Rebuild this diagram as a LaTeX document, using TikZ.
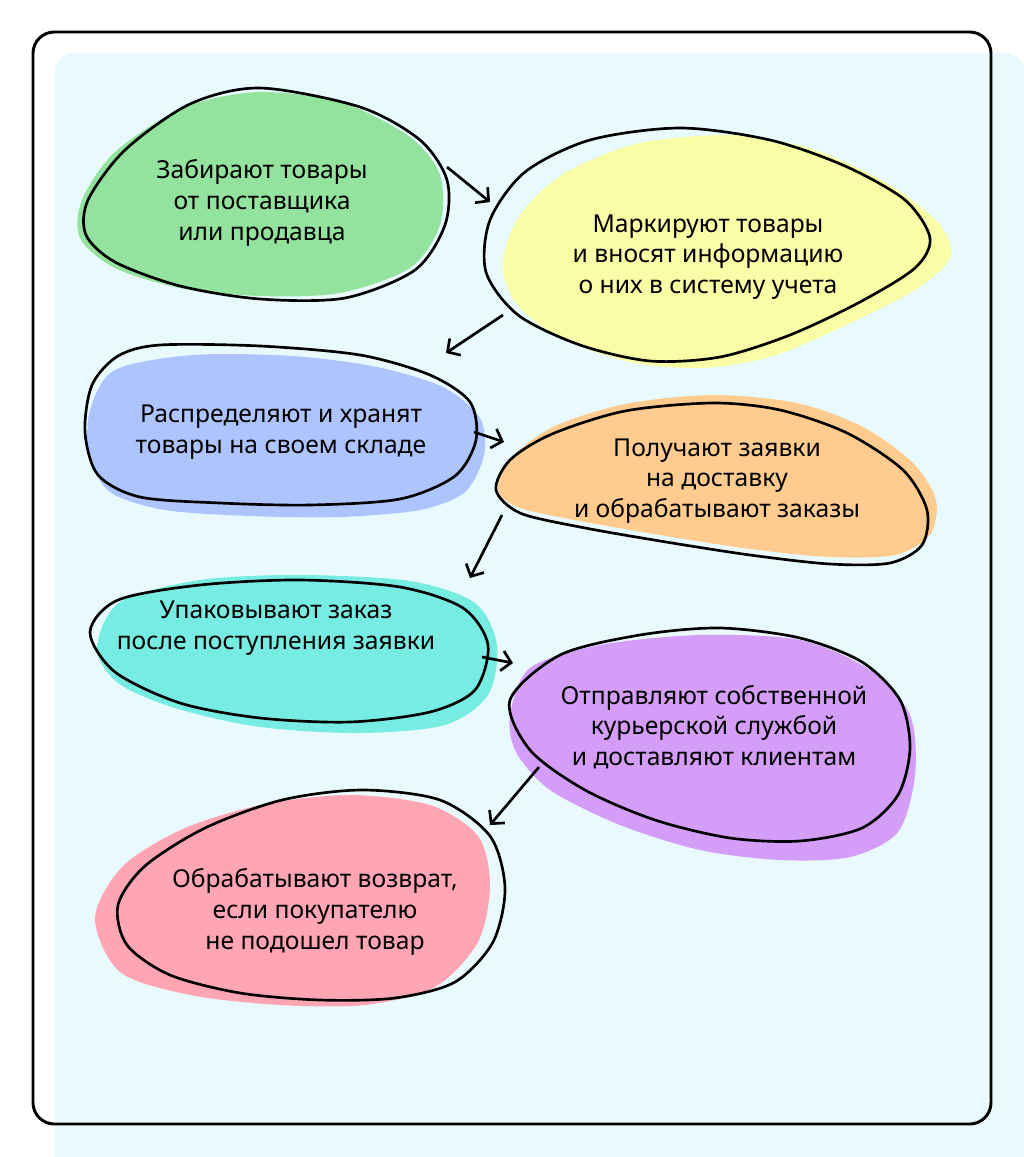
\documentclass[tikz,border=0pt]{standalone}
\usepackage{fontspec}
\setmainfont{Noto Sans}
\usepackage{xcolor}
\usetikzlibrary{arrows.meta}

\definecolor{bgcyan}{RGB}{232,250,254}
\definecolor{cgreen}{RGB}{147,226,157}
\definecolor{cyellow}{RGB}{248,253,166}
\definecolor{cblue}{RGB}{174,196,254}
\definecolor{corange}{RGB}{255,203,142}
\definecolor{cteal}{RGB}{119,236,227}
\definecolor{cpurple}{RGB}{211,157,248}
\definecolor{cpink}{RGB}{255,165,179}

\begin{document}
\begin{tikzpicture}[
    x=0.75pt, y=-0.75pt,
    blobfill/.style={fill=#1, draw=none},
    blobline/.style={draw=black, line width=2pt},
    txt/.style={align=center, font=\fontsize{18.5}{23}\selectfont, inner sep=0pt},
    arr/.style={line width=2pt, -{Straight Barb[length=7pt,width=15pt,line width=2pt]}},
]
\useasboundingbox (0,0) rectangle (1024,1157);
\fill[white] (0,0) rectangle (1024,1157);
\fill[bgcyan, rounded corners=14] (55,1157) -- (55,53) -- (1024,53) -- (1024,1157);
\draw[line width=2.2pt, rounded corners=16] (33,32) rectangle (991,1124);

% green
\fill[blobfill=cgreen] plot[smooth cycle] coordinates {(260,92) (343,103) (410,137) (440,175) (440,225) (410,268) (340,293) (260,296) (180,288) (115,268) (80,238) (82,200) (115,152) (185,107)};
\draw[blobline] plot[smooth cycle] coordinates {(260,88) (360,107) (420,140) (447,180) (445,225) (415,270) (345,298) (260,299) (180,286) (115,262) (86,235) (88,200) (125,150) (190,104)};
\node[txt] (collect) at (262,203) {Забирают товары\\от поставщика\\или продавца};

% yellow
\fill[blobfill=cyellow] plot[smooth cycle] coordinates {(737,135) (815,150) (890,185) (940,225) (950,258) (915,290) (840,328) (770,357) (700,368) (630,362) (560,338) (515,302) (503,262) (520,215) (565,173) (640,143)};
\draw[blobline] plot[smooth cycle] coordinates {(680,128) (770,140) (845,166) (905,200) (930,238) (915,268) (860,302) (790,335) (720,357) (650,361) (580,345) (518,315) (486,272) (490,220) (525,172) (590,140)};
\node[txt] (label) at (708,257) {Маркируют товары\\и вносят информацию\\о них в систему учета};

% blue
\fill[blobfill=cblue] plot[smooth cycle] coordinates {(193,355) (293,356) (377,367) (443,387) (480,418) (484,455) (465,492) (420,510) (340,517) (250,516) (165,510) (110,492) (89,455) (90,410) (115,370)};
\draw[blobline] plot[smooth cycle] coordinates {(160,345) (260,346) (360,355) (430,375) (470,402) (476,440) (455,476) (400,499) (310,505) (220,503) (140,497) (98,475) (85,432) (92,385) (118,356)};
\node[txt] (store) at (281,432) {Распределяют и хранят\\товары на своем складе};

% orange
\fill[blobfill=corange] plot[smooth cycle] coordinates {(713,395) (797,403) (863,427) (913,463) (936,500) (930,535) (895,555) (830,557) (750,549) (660,535) (580,521) (520,508) (498,490) (512,457) (555,426) (625,404)};
\draw[blobline] plot[smooth cycle] coordinates {(713,403) (780,410) (847,433) (903,470) (927,510) (922,545) (890,563) (830,564) (750,555) (660,541) (580,527) (520,513) (496,490) (510,460) (552,434) (625,411)};
\node[txt] (orders) at (717,481) {Получают заявки\\на доставку\\и обрабатывают заказы};

% teal
\fill[blobfill=cteal] plot[smooth cycle] coordinates {(97,648) (120,602) (200,580) (300,575) (410,581) (475,603) (497,645) (488,695) (445,725) (360,733) (260,727) (175,708) (118,683)};
\draw[blobline] plot[smooth cycle] coordinates {(90,632) (118,600) (200,585) (300,580) (400,587) (463,608) (488,645) (475,690) (430,712) (350,722) (260,718) (180,703) (115,672)};
\node[txt] (pack) at (276,628) {Упаковывают заказ\\после поступления заявки};

% purple
\fill[blobfill=cpurple] plot[smooth cycle] coordinates {(510,715) (530,668) (600,645) (700,635) (800,640) (870,670) (910,715) (915,775) (898,832) (850,857) (780,860) (700,850) (620,825) (550,790) (516,752)};
\draw[blobline] plot[smooth cycle] coordinates {(510,700) (560,655) (640,635) (720,628) (800,638) (862,662) (900,700) (910,748) (898,795) (862,828) (800,841) (730,838) (655,820) (585,790) (530,750)};
\node[txt] (ship) at (714,727) {Отправляют собственной\\курьерской службой\\и доставляют клиентам};

% pink
\fill[blobfill=cpink] plot[smooth cycle] coordinates {(95,918) (123,866) (185,828) (265,804) (350,795) (430,805) (478,836) (490,885) (478,942) (435,987) (365,1005) (280,1005) (190,995) (120,972)};
\draw[blobline] plot[smooth cycle] coordinates {(118,905) (145,866) (205,828) (282,800) (362,790) (440,800) (490,836) (505,888) (493,942) (455,982) (395,998) (320,1000) (240,993) (170,975) (127,945)};
\node[txt] (returns) at (315,912) {Обрабатывают возврат,\\если покупателю\\не подошел товар};

% arrows
\coordinate (a1s) at (447,167); \coordinate (a1e) at (490,202);
\coordinate (a2s) at (503,315); \coordinate (a2e) at (446,353);
\coordinate (a3s) at (474,432); \coordinate (a3e) at (504,442);
\coordinate (a4s) at (502,515); \coordinate (a4e) at (470,578);
\coordinate (a5s) at (482,657); \coordinate (a5e) at (513,663);
\coordinate (a6s) at (539,767); \coordinate (a6e) at (490,825);
\draw[arr] (a1s) -- (a1e);
\draw[arr] (a2s) -- (a2e);
\draw[arr] (a3s) -- (a3e);
\draw[arr] (a4s) -- (a4e);
\draw[arr] (a5s) -- (a5e);
\draw[arr] (a6s) -- (a6e);
\end{tikzpicture}
\end{document}
